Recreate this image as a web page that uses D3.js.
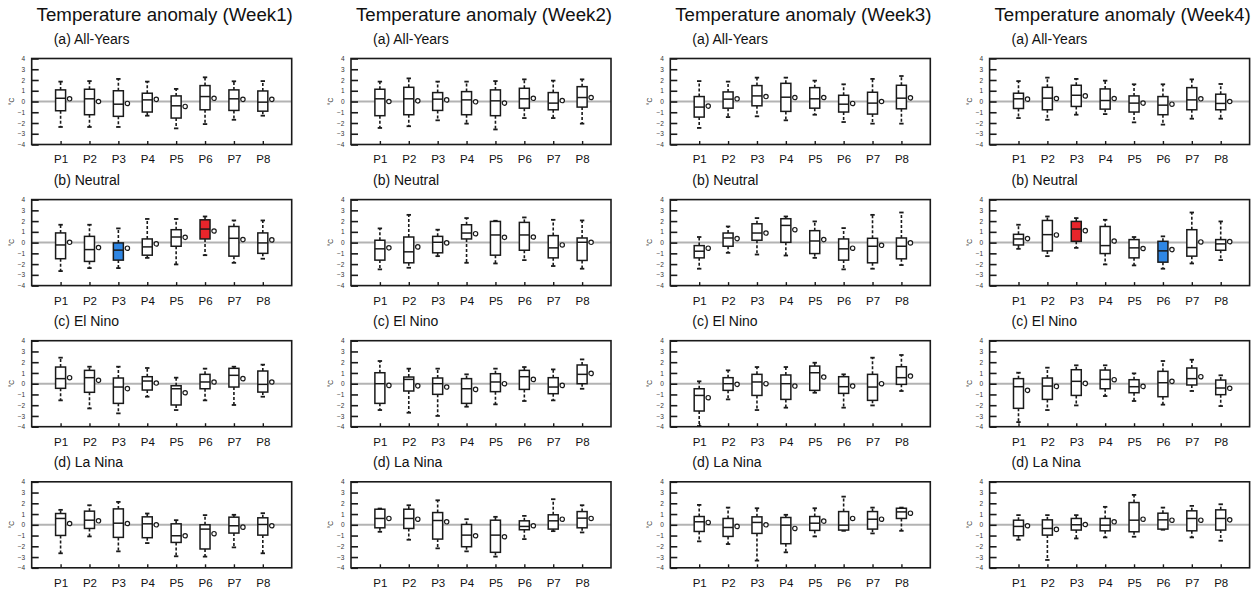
<!DOCTYPE html>
<html>
<head>
<meta charset="utf-8">
<script src="https://cdn.jsdelivr.net/npm/d3@7"></script>
<style>
  body { margin: 0; background: #fff; }
  svg { display: block; }
  text { font-family: "Liberation Sans", Arial, Helvetica, sans-serif; }
</style>
</head>
<body>
<svg id="chart" width="1258" height="589"></svg>
<script>
const periods = ["P1", "P2", "P3", "P4", "P5", "P6", "P7", "P8"];
const weeks = ["Week1", "Week2", "Week3", "Week4"];
const phases = ["(a) All-Years", "(b) Neutral", "(c) El Nino", "(d) La Nina"];
const yTicks = [-4, -3, -2, -1, 0, 1, 2, 3, 4];

// One row per MJO phase P1..P8: [lower whisker, Q1, median, Q3, upper whisker, mean] in °C
const week1AllYears = [
  [-2.37, -0.86, 0.30, 1.08, 1.85, 0.25],
  [-2.37, -1.23, 0.25, 1.14, 1.90, 0.00],
  [-2.37, -1.38, -0.25, 1.00, 2.10, -0.18],
  [-1.32, -0.98, 0.15, 0.77, 1.85, 0.20],
  [-2.50, -1.54, -0.40, 0.52, 1.17, -0.46],
  [-2.10, -0.77, 0.46, 1.48, 2.25, 0.30],
  [-1.70, -0.83, 0.25, 1.08, 1.88, 0.20],
  [-1.32, -0.90, -0.06, 0.98, 1.90, 0.20]
];
const week1Neutral = [
  [-2.65, -1.50, -0.22, 0.90, 1.66, 0.03],
  [-2.37, -1.75, -0.65, 0.58, 1.66, -0.46],
  [-2.37, -1.63, -0.70, -0.03, 1.32, -0.52],
  [-1.42, -1.17, -0.40, 0.34, 2.20, -0.12],
  [-2.03, -0.34, 0.52, 1.20, 2.20, 0.49],
  [-1.17, 0.34, 1.26, 2.12, 2.43, 1.08],
  [-1.88, -1.26, 0.40, 1.50, 2.06, 0.28],
  [-1.50, -1.00, -0.03, 0.90, 2.06, 0.25]
];
const week1ElNino = [
  [-1.55, -0.43, 0.47, 1.55, 2.42, 0.56],
  [-2.30, -0.80, 0.56, 1.24, 1.58, 0.31],
  [-2.76, -1.83, -0.31, 0.53, 1.58, -0.46],
  [-1.21, -0.59, 0.25, 0.65, 1.46, 0.06],
  [-2.45, -1.98, -0.47, -0.19, 0.56, -0.84],
  [-1.55, -0.47, 0.16, 0.87, 1.40, 0.16],
  [-1.98, -0.31, 0.78, 1.43, 1.58, 0.47],
  [-1.21, -0.78, -0.06, 1.18, 1.77, 0.16]
];
const week1LaNina = [
  [-2.65, -0.99, 0.59, 1.05, 1.39, 0.12],
  [-1.08, -0.34, 0.43, 1.27, 1.82, 0.37],
  [-2.47, -1.17, 0.15, 1.48, 2.13, 0.12],
  [-1.70, -1.20, 0.09, 0.74, 1.05, 0.00],
  [-2.93, -1.64, -1.02, 0.09, 0.43, -1.02],
  [-2.96, -2.25, -0.40, 0.00, 0.90, -0.83],
  [-2.10, -0.77, -0.09, 0.71, 0.93, -0.22],
  [-2.65, -0.96, 0.03, 0.65, 1.08, -0.09]
];
const week2AllYears = [
  [-2.46, -1.32, 0.25, 1.14, 1.85, 0.00],
  [-2.30, -1.23, 0.25, 1.32, 2.15, 0.06],
  [-1.75, -0.83, 0.22, 0.83, 1.85, 0.15],
  [-2.06, -1.23, 0.15, 0.92, 1.85, -0.03],
  [-2.60, -1.32, 0.06, 1.08, 1.90, -0.15],
  [-1.54, -0.62, 0.25, 1.23, 2.06, 0.30],
  [-1.54, -0.77, -0.15, 0.83, 1.94, 0.09],
  [-2.06, -0.52, 0.37, 1.38, 2.06, 0.37]
];
const week2Neutral = [
  [-2.49, -1.63, -0.58, 0.22, 1.32, -0.49],
  [-2.34, -1.88, -0.86, 0.52, 2.58, -0.40],
  [-1.26, -0.95, 0.03, 0.58, 1.20, -0.03],
  [-1.88, 0.34, 0.89, 1.66, 2.28, 0.83],
  [-1.94, -1.17, 0.71, 1.97, 2.03, 0.49],
  [-1.63, -0.71, 0.71, 1.88, 2.34, 0.52],
  [-2.18, -1.42, -0.49, 0.65, 2.12, -0.22],
  [-2.43, -1.66, 0.03, 0.43, 2.06, 0.03]
];
const week2ElNino = [
  [-2.45, -1.83, 0.00, 1.02, 2.11, -0.16],
  [-2.70, -0.68, 0.40, 0.62, 1.40, -0.20],
  [-3.00, -0.99, 0.00, 0.53, 1.40, -0.31],
  [-2.14, -1.83, -0.47, 0.47, 0.87, -0.53],
  [-1.92, -0.74, 0.16, 0.93, 1.40, 0.00],
  [-1.61, -0.53, 0.65, 1.24, 1.55, 0.40],
  [-1.55, -0.93, -0.31, 0.56, 1.33, -0.16],
  [-0.47, 0.00, 0.87, 1.74, 2.26, 0.96]
];
const week2LaNina = [
  [-0.65, -0.28, 0.59, 1.45, 1.51, 0.59],
  [-1.39, -0.34, 0.59, 1.45, 1.82, 0.52],
  [-2.19, -1.33, 0.40, 1.14, 2.28, 0.28],
  [-2.47, -2.04, -0.96, 0.03, 0.52, -1.02],
  [-2.96, -2.56, -0.96, 0.43, 0.74, -1.11],
  [-1.33, -0.46, -0.15, 0.37, 0.83, -0.09],
  [-0.59, -0.40, 0.37, 0.93, 2.38, 0.52],
  [-0.71, -0.28, 0.62, 1.23, 1.82, 0.59]
];
const week3AllYears = [
  [-2.46, -1.45, -0.52, 0.46, 1.90, -0.43],
  [-1.45, -0.62, 0.22, 0.89, 1.85, 0.25],
  [-1.38, -0.40, 0.52, 1.48, 2.22, 0.46],
  [-1.75, -0.92, 0.40, 1.69, 2.22, 0.37],
  [-1.23, -0.62, 0.25, 1.29, 1.94, 0.37],
  [-1.91, -0.98, -0.25, 0.58, 1.60, -0.18],
  [-2.06, -1.17, -0.15, 0.86, 2.10, 0.00],
  [-2.06, -0.68, 0.31, 1.51, 2.37, 0.34]
];
const week3Neutral = [
  [-2.43, -1.42, -0.80, -0.28, 0.52, -0.52],
  [-0.95, -0.34, 0.43, 0.89, 1.50, 0.37],
  [-1.11, 0.22, 0.89, 1.75, 2.28, 0.89],
  [-1.20, 0.03, 1.60, 2.22, 2.43, 1.20],
  [-1.42, -1.02, 0.15, 1.11, 1.97, 0.28],
  [-2.49, -1.63, -0.58, 0.34, 1.35, -0.52],
  [-2.43, -1.88, -0.34, 0.40, 2.58, -0.25],
  [-2.09, -1.51, -0.34, 0.43, 2.80, -0.03]
];
const week3ElNino = [
  [-3.94, -2.54, -1.09, -0.47, 0.22, -1.30],
  [-1.46, -0.62, 0.00, 0.56, 1.24, -0.06],
  [-2.45, -1.09, 0.16, 0.87, 1.55, 0.00],
  [-2.23, -1.46, 0.00, 0.81, 1.55, -0.22],
  [-0.84, -0.62, 1.02, 1.64, 1.95, 0.62],
  [-2.23, -0.90, -0.28, 0.65, 0.87, -0.22],
  [-2.02, -1.55, -0.31, 0.87, 2.42, 0.00],
  [-0.68, -0.06, 0.56, 1.58, 2.67, 0.71]
];
const week3LaNina = [
  [-1.54, -0.62, 0.28, 0.77, 1.85, 0.22],
  [-1.79, -1.08, -0.25, 0.59, 1.60, -0.15],
  [-3.33, -0.80, 0.22, 0.74, 1.54, 0.00],
  [-2.56, -1.76, -0.03, 0.68, 0.93, -0.34],
  [-1.08, -0.52, 0.15, 0.77, 1.54, 0.34],
  [-0.56, -0.49, -0.03, 1.23, 2.62, 0.59],
  [-0.80, -0.40, 0.52, 1.23, 1.60, 0.52],
  [-0.56, 0.59, 1.20, 1.54, 1.60, 1.08]
];
const week4AllYears = [
  [-1.54, -0.65, 0.25, 0.77, 1.90, 0.22],
  [-1.70, -0.77, 0.31, 1.32, 2.22, 0.28],
  [-1.23, -0.46, 0.58, 1.51, 2.10, 0.52],
  [-1.17, -0.71, 0.09, 1.17, 1.94, 0.28],
  [-1.94, -0.98, -0.15, 0.52, 1.60, -0.15],
  [-2.15, -1.23, -0.34, 0.46, 1.60, -0.25],
  [-1.60, -0.77, 0.15, 1.29, 2.06, 0.25],
  [-1.60, -0.77, -0.18, 0.68, 1.63, 0.00]
];
const week4Neutral = [
  [-0.58, -0.22, 0.34, 0.77, 1.66, 0.37],
  [-1.26, -0.77, 0.74, 2.06, 2.43, 0.71],
  [-0.49, 0.12, 1.26, 1.97, 2.28, 1.11],
  [-2.03, -1.02, -0.28, 1.50, 2.12, 0.15],
  [-2.12, -1.42, -0.49, 0.28, 0.52, -0.55],
  [-2.43, -1.82, -0.77, 0.12, 0.58, -0.65],
  [-1.94, -1.26, -0.46, 1.20, 2.80, 0.06],
  [-1.63, -0.71, -0.12, 0.28, 1.97, 0.09]
];
const week4ElNino = [
  [-3.57, -2.29, -0.28, 0.47, 1.02, -0.62],
  [-2.45, -1.46, -0.22, 0.53, 1.49, -0.25],
  [-2.02, -1.09, 0.22, 1.30, 1.71, 0.03],
  [-1.15, -0.47, 0.40, 1.27, 1.71, 0.37],
  [-1.61, -0.84, -0.28, 0.37, 0.96, -0.25],
  [-1.95, -1.21, 0.09, 1.15, 2.11, 0.22],
  [-0.68, -0.12, 0.47, 1.46, 2.23, 0.65],
  [-2.08, -1.02, -0.40, 0.34, 0.78, -0.43]
];
const week4LaNina = [
  [-1.39, -1.02, -0.15, 0.43, 0.90, -0.09],
  [-3.27, -0.96, -0.34, 0.46, 0.90, -0.43],
  [-1.27, -0.49, 0.00, 0.59, 0.90, 0.03],
  [-1.17, -0.56, -0.03, 0.59, 1.67, 0.28],
  [-1.11, -0.65, 0.43, 2.07, 2.78, 0.52],
  [-0.46, -0.40, 0.46, 1.08, 1.60, 0.43],
  [-1.17, -0.56, 0.59, 1.30, 1.76, 0.43],
  [-1.48, -0.49, 0.59, 1.39, 1.91, 0.46]
];

// Significant anomalies are shaded: [week index, phase index, period index]
const warmBoxes = [[0, 1, 5], [3, 1, 2]];
const coolBoxes = [[0, 1, 2], [3, 1, 5]];

const boxStats = [
  [week1AllYears, week1Neutral, week1ElNino, week1LaNina],
  [week2AllYears, week2Neutral, week2ElNino, week2LaNina],
  [week3AllYears, week3Neutral, week3ElNino, week3LaNina],
  [week4AllYears, week4Neutral, week4ElNino, week4LaNina]
];

const svg = d3.select("#chart");
svg.append("rect").attr("width", 1258).attr("height", 589).attr("fill", "#fff");

const panelW = 260, panelH = 86;
const colLeft = c => 31.7 + c * 319.3;
const rowTop = r => 58.5 + r * 141.1;

const x = d3.scaleLinear().domain([0, periods.length + 1]).range([0, panelW]);
const y = d3.scaleLinear().domain([-4, 4]).range([panelH, 0]);

const WARM = "#e8252b", COOL = "#2e86e4", INK = "#1a1a1a";

function fillFor(w, p, k) {
  if (warmBoxes.some(b => b[0] === w && b[1] === p && b[2] === k)) return WARM;
  if (coolBoxes.some(b => b[0] === w && b[1] === p && b[2] === k)) return COOL;
  return "#fff";
}

weeks.forEach((wk, w) => {
  // column heading
  svg.append("text")
    .attr("x", colLeft(w) + panelW / 2 + 3)
    .attr("y", 21)
    .attr("text-anchor", "middle")
    .attr("font-size", 18.7)
    .attr("fill", "#111")
    .text(`Temperature anomaly (${wk})`);

  phases.forEach((ph, p) => {
    const g = svg.append("g").attr("transform", `translate(${colLeft(w)},${rowTop(p)})`);
    const stats = boxStats[w][p];

    g.append("text")
      .attr("x", 22)
      .attr("y", -14.5)
      .attr("font-size", 14)
      .attr("fill", "#111")
      .text(ph);

    // zero reference line
    g.append("line")
      .attr("x1", 0).attr("x2", panelW)
      .attr("y1", y(0)).attr("y2", y(0))
      .attr("stroke", "#b3b3b3").attr("stroke-width", 2);

    const boxes = g.selectAll("g.box").data(stats).join("g").attr("class", "box")
      .attr("transform", (d, k) => `translate(${x(k + 1)},0)`);

    // whiskers (dashed) with end caps
    boxes.append("line")
      .attr("x1", 0).attr("x2", 0)
      .attr("y1", d => y(d[3])).attr("y2", d => y(d[4]))
      .attr("stroke", INK).attr("stroke-width", 1.6).attr("stroke-dasharray", "3,2");
    boxes.append("line")
      .attr("x1", 0).attr("x2", 0)
      .attr("y1", d => y(d[1])).attr("y2", d => y(d[0]))
      .attr("stroke", INK).attr("stroke-width", 1.6).attr("stroke-dasharray", "3,2");
    boxes.append("line")
      .attr("x1", -2.2).attr("x2", 2.2)
      .attr("y1", d => y(d[4])).attr("y2", d => y(d[4]))
      .attr("stroke", INK).attr("stroke-width", 1.8);
    boxes.append("line")
      .attr("x1", -2.2).attr("x2", 2.2)
      .attr("y1", d => y(d[0])).attr("y2", d => y(d[0]))
      .attr("stroke", INK).attr("stroke-width", 1.8);

    // interquartile box
    boxes.append("rect")
      .attr("x", -5).attr("width", 10)
      .attr("y", d => y(d[3]))
      .attr("height", d => y(d[1]) - y(d[3]))
      .attr("fill", (d, k) => fillFor(w, p, k))
      .attr("stroke", INK).attr("stroke-width", 1.5);

    // median
    boxes.append("line")
      .attr("x1", -5).attr("x2", 5)
      .attr("y1", d => y(d[2])).attr("y2", d => y(d[2]))
      .attr("stroke", INK).attr("stroke-width", 1.5);

    // mean
    boxes.append("circle")
      .attr("cx", 9)
      .attr("cy", d => y(d[5]))
      .attr("r", 2.2)
      .attr("fill", "#fff")
      .attr("stroke", INK).attr("stroke-width", 1.2);

    // axes
    const yAxis = d3.axisLeft(y).tickValues(yTicks).tickSize(-7).tickPadding(6.5).tickFormat(d3.format("d"));
    const ya = g.append("g").call(yAxis);
    ya.select(".domain").remove();
    ya.selectAll("line").attr("stroke", INK).attr("stroke-width", 1.6);
    ya.selectAll("text").attr("font-size", 6.5).attr("fill", "#333")
      .attr("font-family", "\"Liberation Sans\", Arial, sans-serif");

    const xAxis = d3.axisBottom(x).tickValues(d3.range(1, periods.length + 1))
      .tickFormat(i => periods[i - 1]).tickSize(-3.5).tickPadding(10.8);
    const xa = g.append("g").attr("transform", `translate(0,${panelH})`).call(xAxis);
    xa.select(".domain").remove();
    xa.selectAll("line").attr("stroke", INK).attr("stroke-width", 1.4);
    xa.selectAll("text").attr("font-size", 11.5).attr("fill", "#111")
      .attr("font-family", "\"Liberation Sans\", Arial, sans-serif");

    // unit label
    g.append("text")
      .attr("transform", `translate(-18,${y(0)}) rotate(-90)`)
      .attr("text-anchor", "middle")
      .attr("font-size", 6.5)
      .attr("fill", "#333")
      .text("°C");

    // frame
    g.append("rect")
      .attr("width", panelW).attr("height", panelH)
      .attr("fill", "none")
      .attr("stroke", INK).attr("stroke-width", 1.6);
  });
});
</script>
</body>
</html>
